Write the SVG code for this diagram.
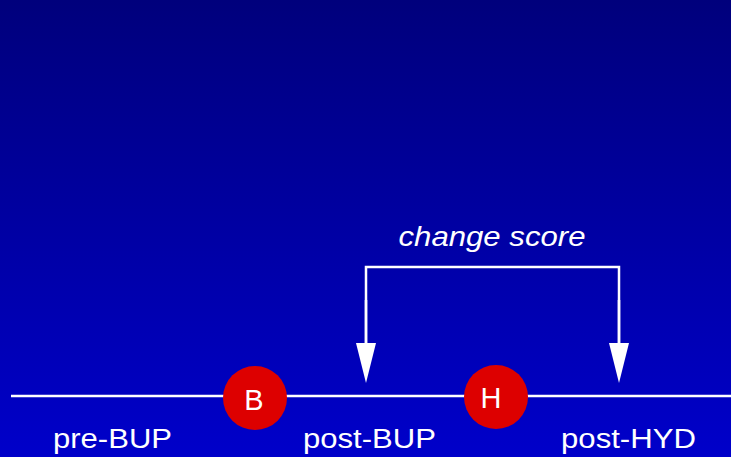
<svg xmlns="http://www.w3.org/2000/svg" width="731" height="457" viewBox="0 0 731 457">
  <defs>
    <linearGradient id="bg" x1="0" y1="0" x2="0" y2="1">
      <stop offset="0" stop-color="#00007C"/>
      <stop offset="1" stop-color="#0000CA"/>
    </linearGradient>
    <marker id="arrow" markerUnits="userSpaceOnUse" markerWidth="42" markerHeight="22" viewBox="0 0 42 22" refX="2" refY="11" orient="auto">
      <polygon points="0,1 0,21 40,11" fill="#FFFFFF"/>
    </marker>
    <style>
      .lbl { font-family: "Liberation Sans", Arial, sans-serif; fill: #FFFFFF; font-size: 27px; text-anchor: middle; }
      .ital { font-style: italic; }
      .nl { font-size: 29px; }
      .line { stroke: #FFFFFF; stroke-width: 2.5; fill: none; }
      .node circle { fill: #DD0000; }
    </style>
  </defs>
  <rect width="731" height="457" fill="url(#bg)"/>
  <g id="connectors">
    <line class="line" x1="11" y1="396" x2="731" y2="396"/>
    <polyline class="line" points="366,345 366,267 619,267 619,345"/>
    <line class="line" x1="366" y1="300" x2="366" y2="345" marker-end="url(#arrow)"/>
    <line class="line" x1="619" y1="300" x2="619" y2="345" marker-end="url(#arrow)"/>
  </g>
  <g id="node-B" class="node">
    <circle cx="255" cy="398" r="32"/>
    <text class="lbl nl" x="254" y="410">B</text>
  </g>
  <g id="node-H" class="node">
    <circle cx="496" cy="397" r="32"/>
    <text class="lbl nl" x="491" y="408">H</text>
  </g>
  <g id="labels">
    <text class="lbl ital" x="492" y="246" textLength="187" lengthAdjust="spacingAndGlyphs">change score</text>
    <text class="lbl" x="112.5" y="448" textLength="119" lengthAdjust="spacingAndGlyphs">pre-BUP</text>
    <text class="lbl" x="369.5" y="448" textLength="133" lengthAdjust="spacingAndGlyphs">post-BUP</text>
    <text class="lbl" x="628.5" y="448" textLength="135" lengthAdjust="spacingAndGlyphs">post-HYD</text>
  </g>
</svg>
